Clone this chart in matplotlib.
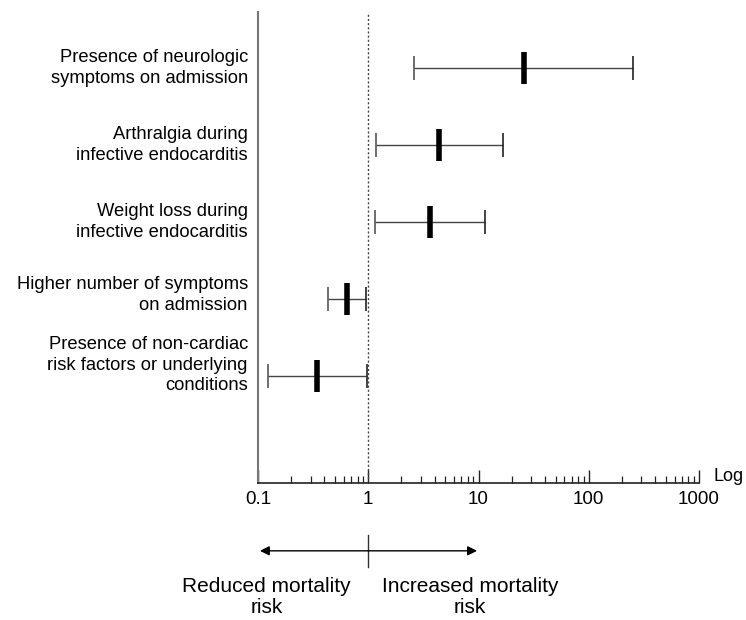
import matplotlib
matplotlib.use("Agg")
import matplotlib.pyplot as plt
from matplotlib.ticker import LogLocator, NullFormatter, FixedLocator, FixedFormatter

plt.rcParams['font.family'] = ['Liberation Sans', 'DejaVu Sans']

labels = [
    "Presence of neurologic\nsymptoms on admission",
    "Arthralgia during\ninfective endocarditis",
    "Weight loss during\ninfective endocarditis",
    "Higher number of symptoms\non admission",
    "Presence of non-cardiac\nrisk factors or underlying\nconditions",
]
odds_ratio = [25.7, 4.4, 3.6, 0.64, 0.34]
ci_low = [2.6, 1.17, 1.15, 0.43, 0.123]
ci_high = [251, 16.6, 11.5, 0.95, 0.98]
xticks = [0.1, 1, 10, 100, 1000]
xtick_labels = ["0.1", "1", "10", "100", "1000"]

fig = plt.figure(figsize=(7.46, 6.2), dpi=100)
ax = fig.add_axes([258/746, 1-483/620, 441/746, 471/620])

n = len(labels)
ys = [n - 1 - i for i in range(n)]
label_dy = [0.0, 0.0, 0.0, 0.05, 0.14]

for y, o, lo, hi, lab, dy in zip(ys, odds_ratio, ci_low, ci_high, labels, label_dy):
    ax.hlines(y, lo, hi, color='#444444', lw=1.0)
    ax.plot([lo], [y], marker='|', ms=17, mew=1.2, color='#555555')
    ax.plot([hi], [y], marker='|', ms=17, mew=1.2, color='#222222')
    ax.plot([o], [y], marker='|', ms=23, mew=4, color='black')
    ax.text(-0.023, y + dy, lab, transform=ax.get_yaxis_transform(),
            ha='right', va='center', multialignment='right', fontsize=13.2,
            linespacing=1.27)

ax.axvline(1, color='#444444', lw=1.0, ls=(0, (1.5, 1.5)))

ax.set_xscale('log')
ax.set_xlim(0.1, 1000)
ax.set_ylim(-1.39, 4.73)
ax.set_yticks([])

ax.xaxis.set_major_locator(FixedLocator(xticks))
ax.xaxis.set_major_formatter(FixedFormatter(xtick_labels))
ax.xaxis.set_minor_locator(LogLocator(base=10, subs=range(2, 10)))
ax.xaxis.set_minor_formatter(NullFormatter())
ax.tick_params(axis='x', which='major', direction='in', length=9.5, width=1.0,
               labelsize=13.5, pad=6, color='#222222')
ax.tick_params(axis='x', which='minor', direction='in', length=5, width=0.9,
               color='#222222')

for s in ['top', 'right']:
    ax.spines[s].set_visible(False)
ax.spines['left'].set_color('#777777')
ax.spines['left'].set_linewidth(1.5)
ax.spines['bottom'].set_color('#222222')
ax.spines['bottom'].set_linewidth(1.2)

ax.text(1.032, 0.013, "Log", transform=ax.transAxes, ha='left', va='center', fontsize=13)

xt = ax.get_xaxis_transform()
ax.annotate("", xy=(0.104, -0.144), xytext=(1, -0.144), xycoords=xt, textcoords=xt,
            arrowprops=dict(arrowstyle='-|>', color='black', lw=1.0, mutation_scale=14,
                            shrinkA=0, shrinkB=0), annotation_clip=False)
ax.annotate("", xy=(9.7, -0.144), xytext=(1, -0.144), xycoords=xt, textcoords=xt,
            arrowprops=dict(arrowstyle='-|>', color='black', lw=1.0, mutation_scale=14,
                            shrinkA=0, shrinkB=0), annotation_clip=False)
ax.plot([1, 1], [-0.110, -0.178], transform=xt, color='#333333', lw=1.0, clip_on=False)

ax.text(0.12, -0.242, "Reduced mortality\nrisk", transform=xt, ha='center', va='center',
        fontsize=15, linespacing=1.17)
ax.text(8.36, -0.242, "Increased mortality\nrisk", transform=xt, ha='center', va='center',
        fontsize=15, linespacing=1.17)

fig.savefig("out.png", dpi=100)
